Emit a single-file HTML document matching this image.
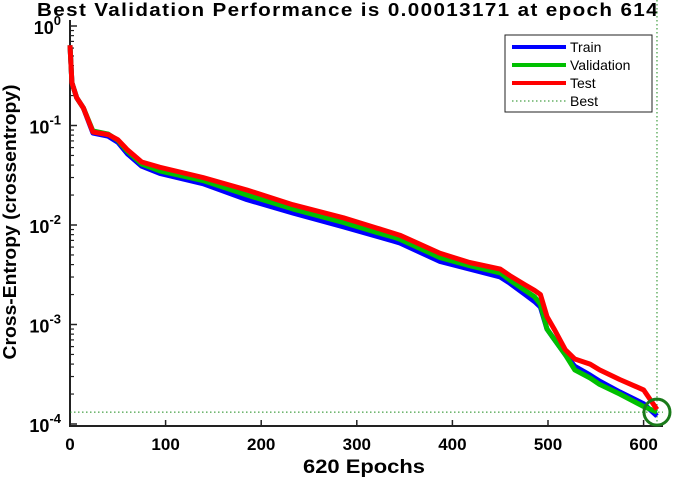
<!DOCTYPE html>
<html><head><meta charset="utf-8"><style>
body{margin:0;background:#fff;}
svg{display:block;font-family:"Liberation Sans",Arial,sans-serif;}
</style></head><body>
<svg id="chart" width="685" height="477"></svg>
<script>
const epochs = [0,2,7,14,24,40,50,60,75,94,139,185,233,286,321,338,345,387,418,450,460,476,486,492,499,507,518,528,544,554,575,600,614];
const testVals = [0.64,0.27,0.19,0.15,0.086,0.081,0.072,0.057,0.043,0.038,0.030,0.0225,0.016,0.0118,0.0093,0.0083,0.0079,0.0052,0.0042,0.0036,0.0031,0.0025,0.0022,0.0020,0.0012,0.00088,0.00056,0.00045,0.0004,0.00035,0.00028,0.00022,0.00014];
const valVals = [0.64,0.27,0.19,0.15,0.088,0.082,0.071,0.055,0.041,0.035,0.028,0.020,0.0145,0.0106,0.0084,0.0076,0.0072,0.0047,0.0039,0.0033,0.0028,0.0022,0.0019,0.0016,0.0009,0.0007,0.0005,0.00035,0.00029,0.00025,0.0002,0.00015,0.00013171];
const trainVals = [0.64,0.27,0.19,0.15,0.084,0.078,0.068,0.052,0.039,0.033,0.026,0.018,0.0132,0.0096,0.0077,0.0069,0.0066,0.0043,0.0036,0.0030,0.0026,0.0020,0.0017,0.0015,0.0009,0.0007,0.0005,0.00038,0.00031,0.00027,0.00021,0.00016,0.00012];
const xTicks = [0,100,200,300,400,500,600];
const yExps = [0,-1,-2,-3,-4];
const bestEpoch = 614, bestVal = 0.00013171;

const NS="http://www.w3.org/2000/svg";
const svg=document.getElementById('chart');
const X0=70, XS=0.956, Y0=26, DEC=99.5, AXB=426, AXR=663;
const xs=e=>X0+e*XS;
const ys=v=>Y0-Math.log10(v)*DEC;
function mk(tag,attrs,parent){const el=document.createElementNS(NS,tag);for(const k in attrs)el.setAttribute(k,attrs[k]);(parent||svg).appendChild(el);return el;}

let t=mk('text',{x:348,y:16,'text-anchor':'middle','font-size':'18','font-weight':'bold','letter-spacing':'1.2',textLength:622,lengthAdjust:'spacingAndGlyphs'});
t.textContent='Best Validation Performance is 0.00013171 at epoch 614';



let ax=mk('path',{d:`M${X0} 20 V${AXB} H${AXR}`,stroke:'#222','stroke-width':2,fill:'none'});


xTicks.forEach(v=>{
  mk('line',{x1:xs(v),x2:xs(v),y1:AXB,y2:AXB-6,stroke:'#222','stroke-width':1.5});
  const l=mk('text',{x:xs(v),y:AXB+24,'text-anchor':'middle','font-size':'17','font-weight':'bold'});
  l.textContent=v;
  
  
});
yExps.forEach(p=>{
  const y=ys(Math.pow(10,p));
  mk('line',{x1:X0,x2:X0+7,y1:y,y2:y,stroke:'#222','stroke-width':1.5});
  if(p>-4){for(let m=2;m<10;m++){const yy=ys(m*Math.pow(10,p-1));mk('line',{x1:X0,x2:X0+4,y1:yy,y2:yy,stroke:'#222','stroke-width':1.2});}}
  const l=mk('text',{x:X0-9,y:y+8,'text-anchor':'end','font-size':'18','font-weight':'bold'});
  l.textContent='10';
  const s=mk('tspan',{dy:-9,'font-size':'13'},l);s.textContent=String(p);
  
  
});
t=mk('text',{x:364,y:473,'text-anchor':'middle','font-size':'19','font-weight':'bold',textLength:122,lengthAdjust:'spacingAndGlyphs'});
t.textContent='620 Epochs';


t=mk('text',{x:0,y:0,'text-anchor':'middle','font-size':'18','font-weight':'bold',transform:'translate(16,222) rotate(-90)',textLength:275,lengthAdjust:'spacingAndGlyphs'});
t.textContent='Cross-Entropy  (crossentropy)';



let bl=mk('path',{d:`M${X0} ${ys(bestVal)} H${AXR}`,stroke:'#1a8a1a','stroke-width':1,'stroke-dasharray':'1.5 2.5',fill:'none'});


bl=mk('path',{d:`M${xs(bestEpoch)} 0 V${AXB}`,stroke:'#1a8a1a','stroke-width':1,'stroke-dasharray':'1.5 2.5',fill:'none'});



function series(vals,color,name){
  const d=vals.map((v,i)=>(i?'L':'M')+xs(epochs[i]).toFixed(1)+' '+ys(v).toFixed(1)).join(' ');
  const p=mk('path',{d,stroke:color,'stroke-width':5,fill:'none','stroke-linejoin':'round'});
  
  
}
series(trainVals,'#0000ff','train-line');
series(valVals,'#00c000','validation-line');
series(testVals,'#ff0000','test-line');

let c=mk('circle',{cx:xs(bestEpoch),cy:ys(bestVal),r:13,fill:'none',stroke:'#1a7a1a','stroke-width':3});



const lg=mk('g',{});


mk('rect',{x:505,y:35,width:147,height:77,fill:'#fff',stroke:'#222','stroke-width':1},lg);
[['Train','#0000ff',0],['Validation','#00c000',0],['Test','#ff0000',0],['Best','#1a8a1a',1]].forEach((e,i)=>{
  const y=47+i*18;
  mk('line',{x1:512,x2:566,y1:y,y2:y,stroke:e[1],'stroke-width':e[2]?1:4,'stroke-dasharray':e[2]?'1.5 2.5':'none'},lg);
  const tx=mk('text',{x:570,y:y+5,'font-size':'14'},lg);
  tx.textContent=e[0];
  
  
});
</script>
</body></html>
